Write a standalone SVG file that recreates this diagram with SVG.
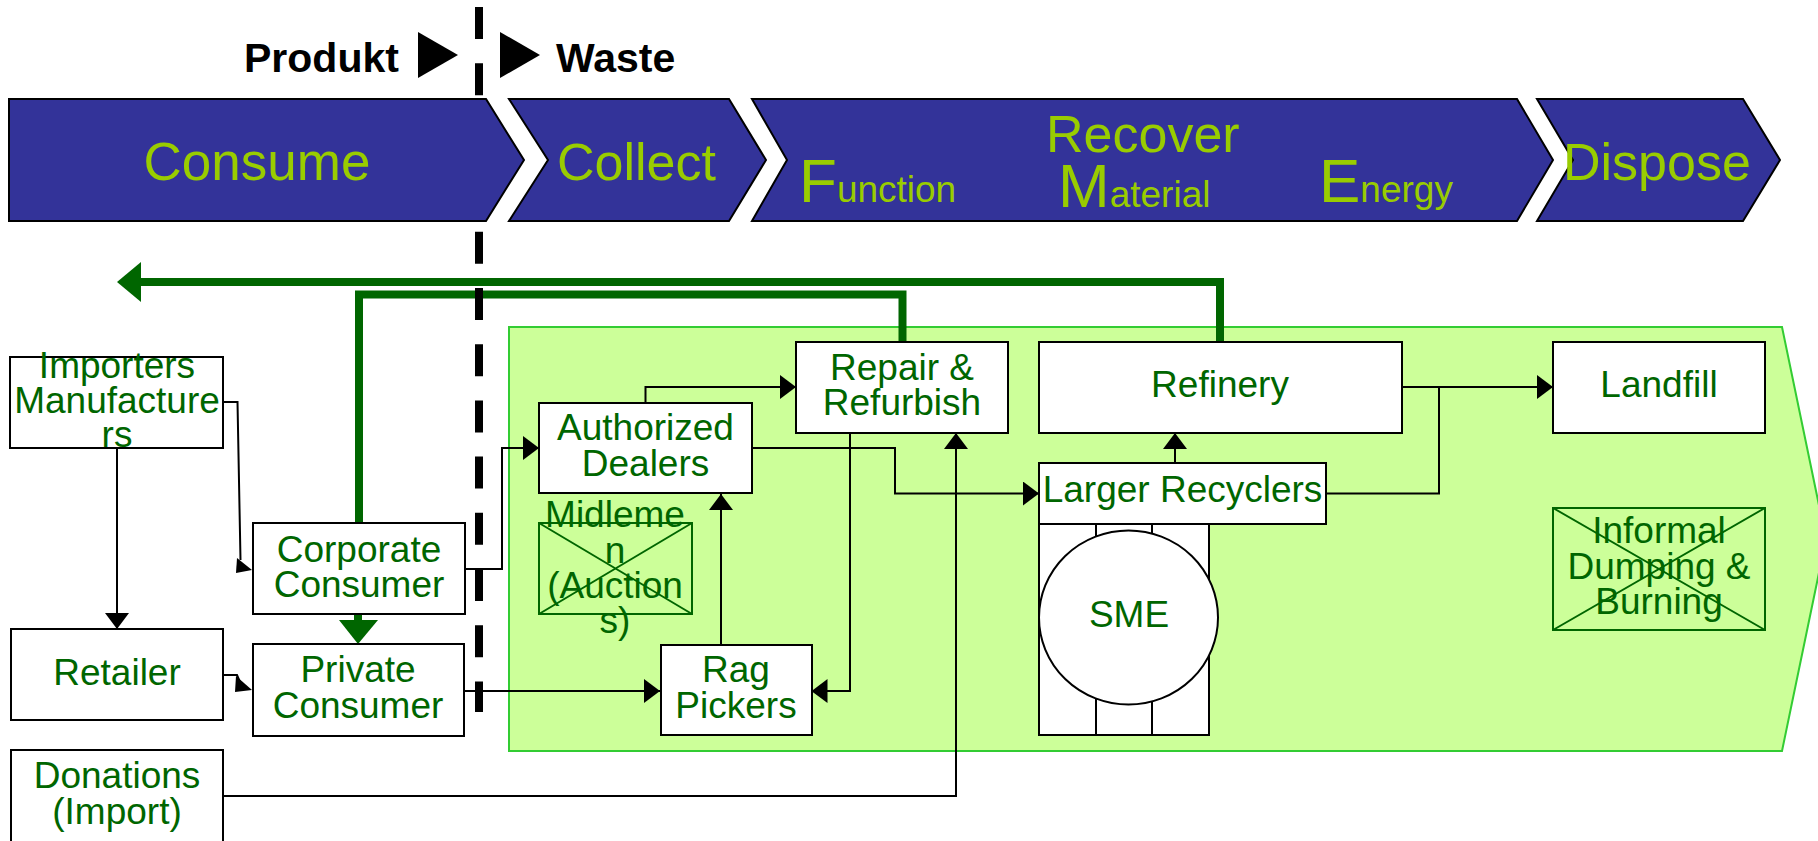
<svg xmlns="http://www.w3.org/2000/svg" width="1818" height="841" viewBox="0 0 1818 841">
<style>
.band{fill:#333399;stroke:#000;stroke-width:2}
.bt{font-family:"Liberation Sans",Arial,sans-serif;fill:#99CC00}
.hd{font-family:"Liberation Sans",Arial,sans-serif;font-weight:bold;font-size:41px;fill:#000}
.box{fill:#fff;stroke:#000;stroke-width:2}
.xbox{fill:none;stroke:#006600;stroke-width:2}
.t{font-family:"Liberation Sans",Arial,sans-serif;font-size:37px;fill:#006600;text-anchor:middle}
.c{fill:none;stroke:#000;stroke-width:2}
.g{fill:none;stroke:#006600;stroke-width:8}
</style>
<defs>
<marker id="arr" viewBox="0 0 16 24" refX="16" refY="12" markerWidth="16" markerHeight="24" markerUnits="userSpaceOnUse" orient="auto">
<path d="M0,0 L16,12 L0,24 z" fill="#000"/>
</marker>
</defs>

<polygon id="region" points="509,327 1782,327 1826,539 1782,751 509,751" fill="#CCFF99" stroke="#33CC33" stroke-width="2"/>

<g id="connectors">
<path class="c" d="M117,448 V629" marker-end="url(#arr)"/>
<path class="c" d="M223,402 H237.5 L240.5,560"/>
<polygon points="237,558 252,570 236,573" fill="#000"/>
<path class="c" d="M223,675 H237 L240,682"/>
<polygon points="236,676 252,690 235,692" fill="#000"/>
<path class="c" d="M465,569 H502 V448 H539" marker-end="url(#arr)"/>
<path class="c" d="M464,691 H660" marker-end="url(#arr)"/>
<path class="c" d="M721,645 V494" marker-end="url(#arr)"/>
<path class="c" d="M645.5,403 V387 H796" marker-end="url(#arr)"/>
<path class="c" d="M752,448 H895 V493.5 H1039" marker-end="url(#arr)"/>
<path class="c" d="M850,433 V691 H811.5" marker-end="url(#arr)"/>
<path class="c" d="M223,796 H956 V433" marker-end="url(#arr)"/>
<path class="c" d="M1175,463 V433" marker-end="url(#arr)"/>
<path class="c" d="M1402,387 H1553" marker-end="url(#arr)"/>
<path class="c" d="M1326,493.5 H1439 V387"/>
<path class="g" d="M1220,342 V282 H138"/>
<polygon points="117,282 141,262 141,302" fill="#006600"/>
<path class="g" d="M902.5,342 V294.5 H359 V523"/>
<path class="g" d="M358,614 V622"/>
<polygon points="339,620 378,620 358,644" fill="#006600"/>
</g>

<g id="importers"><rect class="box" x="10" y="357" width="213" height="91"/>
<text class="t" x="117" y="378">Importers</text><text class="t" x="117" y="412.5">Manufacture</text><text class="t" x="117" y="447">rs</text></g>
<g id="corporate"><rect class="box" x="253" y="523" width="212" height="91"/>
<text class="t" x="359" y="562">Corporate</text><text class="t" x="359" y="597">Consumer</text></g>
<g id="retailer"><rect class="box" x="11" y="629" width="212" height="91"/>
<text class="t" x="117" y="685">Retailer</text></g>
<g id="private"><rect class="box" x="253" y="644" width="211" height="92"/>
<text class="t" x="358" y="682">Private</text><text class="t" x="358" y="718">Consumer</text></g>
<g id="donations"><rect class="box" x="11" y="750" width="212" height="94"/>
<text class="t" x="117" y="788">Donations</text><text class="t" x="117" y="824">(Import)</text></g>
<g id="authorized"><rect class="box" x="539" y="403" width="213" height="90"/>
<text class="t" x="645.5" y="440">Authorized</text><text class="t" x="645.5" y="476">Dealers</text></g>
<g id="midlemen"><rect class="xbox" x="539" y="523" width="153" height="91"/>
<path class="xbox" d="M539,523 L692,614 M692,523 L539,614"/>
<text class="t" x="615" y="527">Midleme</text><text class="t" x="615" y="563">n</text><text class="t" x="615" y="598">(Auction</text><text class="t" x="615" y="633">s)</text></g>
<g id="repair"><rect class="box" x="796" y="342" width="212" height="91"/>
<text class="t" x="902" y="380">Repair &amp;</text><text class="t" x="902" y="415">Refurbish</text></g>
<g id="rag"><rect class="box" x="661" y="645" width="151" height="90"/>
<text class="t" x="736" y="682">Rag</text><text class="t" x="736" y="718">Pickers</text></g>
<g id="refinery"><rect class="box" x="1039" y="342" width="363" height="91"/>
<text class="t" x="1220" y="397">Refinery</text></g>
<g id="larger"><rect class="box" x="1039" y="463" width="287" height="61"/>
<text class="t" x="1182.5" y="502">Larger Recyclers</text></g>
<g id="sme"><rect class="box" x="1039" y="524" width="170" height="211"/>
<path class="c" d="M1096,524 V735 M1152,524 V735"/>
<ellipse cx="1128.5" cy="617.5" rx="89.5" ry="87" fill="#fff" stroke="#000" stroke-width="2"/>
<text class="t" x="1129" y="627">SME</text></g>
<g id="landfill"><rect class="box" x="1553" y="342" width="212" height="91"/>
<text class="t" x="1659" y="397">Landfill</text></g>
<g id="informal"><rect class="xbox" x="1553" y="508" width="212" height="122"/>
<path class="xbox" d="M1553,508 L1765,630 M1765,508 L1553,630"/>
<text class="t" x="1659" y="543">Informal</text><text class="t" x="1659" y="578.5">Dumping &amp;</text><text class="t" x="1659" y="614">Burning</text></g>

<line id="divider" x1="479" y1="7" x2="479" y2="712" stroke="#000" stroke-width="8" stroke-dasharray="32 24.2"/>

<g id="bands">
<polygon class="band" points="9,99 486,99 524,160 486,221 9,221"/>
<polygon class="band" points="509,99 729,99 766,160 729,221 509,221 548,160"/>
<polygon class="band" points="752,99 1517,99 1553,160 1517,221 752,221 787,160"/>
<polygon class="band" points="1537,99 1743,99 1780,160 1743,221 1537,221 1573,160"/>
<text class="bt" x="257" y="180" font-size="53" text-anchor="middle">Consume</text>
<text class="bt" x="557" y="180" font-size="52">Collect</text>
<text class="bt" x="1046" y="152" font-size="52">Recover</text>
<text class="bt" x="799" y="202" font-size="62">F<tspan font-size="37">unction</tspan></text>
<text class="bt" x="1058" y="207" font-size="62">M<tspan font-size="37">aterial</tspan></text>
<text class="bt" x="1319" y="202" font-size="62">E<tspan font-size="37">nergy</tspan></text>
<text class="bt" x="1563" y="180" font-size="52">Dispose</text>
</g>

<g id="header">
<text class="hd" x="244" y="72">Produkt</text>
<polygon points="418,32 418,78 458,55" fill="#000"/>
<polygon points="500,32 500,78 540,55" fill="#000"/>
<text class="hd" x="556" y="72">Waste</text>
</g>
</svg>
